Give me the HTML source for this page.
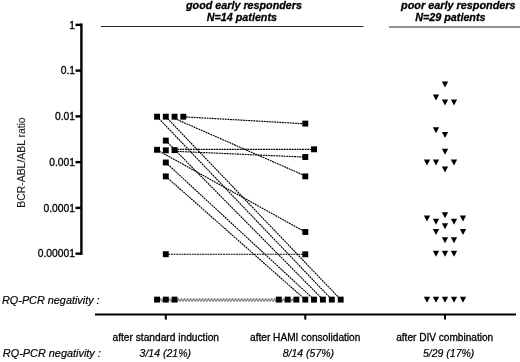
<!DOCTYPE html>
<html><head><meta charset="utf-8"><title>chart</title>
<style>html,body{margin:0;padding:0;background:#fff;}body{width:520px;height:362px;position:relative;overflow:hidden;font-family:"Liberation Sans",sans-serif;}</style>
</head><body>
<svg width="520" height="362" viewBox="0 0 520 362" style="position:absolute;left:0;top:0;will-change:transform;transform:translateZ(0)">
<g stroke="#2a2a2a" stroke-width="1" fill="none">
<path d="M101 26.5H363.5"/><path d="M389 27H520" stroke-width="1.2"/>
</g>
<g stroke="#000" stroke-width="2.4" fill="none">
<path d="M81.4 23.45V254.85"/>
<path d="M75.5 24.85H81.4"/>
<path d="M75.5 70.61H81.4"/>
<path d="M75.5 116.37H81.4"/>
<path d="M75.5 162.13H81.4"/>
<path d="M75.5 207.89H81.4"/>
<path d="M75.5 253.65H81.4"/>
</g>
<g stroke="#000" stroke-width="2" fill="none">
<path d="M95 314.5H516"/>
<path d="M165.8 314.5V319.6"/>
<path d="M305.3 314.5V319.6"/>
<path d="M445 314.5V319.6"/>
</g>
<g stroke="#000" stroke-width="1.15" fill="none" stroke-dasharray="1.9 0.7">
<path d="M183.3 116.8L305.3 123.8"/>
<path d="M174.6 118.5L305.3 175.9"/>
<path d="M174.6 149.4L314.1 149.4"/>
<path d="M174.6 151.3L305.3 157.1"/>
<path d="M157.1 150.0L305.3 232.0"/>
<path d="M165.8 254.2L305.3 254.3"/>
<path d="M157.1 116.7L331.8 299.6"/>
<path d="M165.8 116.7L340.7 299.6"/>
<path d="M165.8 140.6L322.9 299.6"/>
<path d="M165.8 162.5L314.0 299.6"/>
<path d="M165.8 176.4L305.3 299.6"/>
</g>
<g stroke="#2a2a2a" stroke-width="1.05" fill="none" stroke-dasharray="1.5 1.5">
<path d="M157.1 299.0H296.4" stroke-dashoffset="0"/>
<path d="M157.1 300.0H296.4" stroke-dashoffset="1"/>
<path d="M157.1 301.0H296.4" stroke-dashoffset="2"/>
</g>
<g fill="#000">
<rect x="154.10" y="113.75" width="5.9" height="5.9"/>
<rect x="162.85" y="113.75" width="5.9" height="5.9"/>
<rect x="171.60" y="113.75" width="5.9" height="5.9"/>
<rect x="180.35" y="113.75" width="5.9" height="5.9"/>
<rect x="162.85" y="137.65" width="5.9" height="5.9"/>
<rect x="154.10" y="146.85" width="5.9" height="5.9"/>
<rect x="162.85" y="147.35" width="5.9" height="5.9"/>
<rect x="171.60" y="147.15" width="5.9" height="5.9"/>
<rect x="162.85" y="159.55" width="5.9" height="5.9"/>
<rect x="162.85" y="173.45" width="5.9" height="5.9"/>
<rect x="162.85" y="251.25" width="5.9" height="5.9"/>
<rect x="154.10" y="296.65" width="5.9" height="5.9"/>
<rect x="162.85" y="296.65" width="5.9" height="5.9"/>
<rect x="171.60" y="296.65" width="5.9" height="5.9"/>
<rect x="302.35" y="120.65" width="5.9" height="5.9"/>
<rect x="311.10" y="146.35" width="5.9" height="5.9"/>
<rect x="302.35" y="154.05" width="5.9" height="5.9"/>
<rect x="302.35" y="173.45" width="5.9" height="5.9"/>
<rect x="302.35" y="229.05" width="5.9" height="5.9"/>
<rect x="302.35" y="251.35" width="5.9" height="5.9"/>
<rect x="275.85" y="296.65" width="5.9" height="5.9"/>
<rect x="284.75" y="296.65" width="5.9" height="5.9"/>
<rect x="293.45" y="296.65" width="5.9" height="5.9"/>
<rect x="302.35" y="296.65" width="5.9" height="5.9"/>
<rect x="311.05" y="296.65" width="5.9" height="5.9"/>
<rect x="319.95" y="296.65" width="5.9" height="5.9"/>
<rect x="328.85" y="296.65" width="5.9" height="5.9"/>
<rect x="337.75" y="296.65" width="5.9" height="5.9"/>
<path d="M441.85 81.40H448.15L445.00 87.40Z"/>
<path d="M432.85 94.60H439.15L436.00 100.60Z"/>
<path d="M441.85 99.60H448.15L445.00 105.60Z"/>
<path d="M450.85 99.60H457.15L454.00 105.60Z"/>
<path d="M432.85 127.20H439.15L436.00 133.20Z"/>
<path d="M441.85 132.00H448.15L445.00 138.00Z"/>
<path d="M441.85 148.80H448.15L445.00 154.80Z"/>
<path d="M423.85 159.40H430.15L427.00 165.40Z"/>
<path d="M432.85 159.40H439.15L436.00 165.40Z"/>
<path d="M450.85 159.40H457.15L454.00 165.40Z"/>
<path d="M441.85 166.60H448.15L445.00 172.60Z"/>
<path d="M423.85 215.60H430.15L427.00 221.60Z"/>
<path d="M432.85 218.80H439.15L436.00 224.80Z"/>
<path d="M441.85 212.20H448.15L445.00 218.20Z"/>
<path d="M441.85 223.20H448.15L445.00 229.20Z"/>
<path d="M450.85 218.80H457.15L454.00 224.80Z"/>
<path d="M459.85 215.60H466.15L463.00 221.60Z"/>
<path d="M432.85 229.10H439.15L436.00 235.10Z"/>
<path d="M459.85 229.10H466.15L463.00 235.10Z"/>
<path d="M441.85 237.30H448.15L445.00 243.30Z"/>
<path d="M450.85 237.30H457.15L454.00 243.30Z"/>
<path d="M432.85 250.80H439.15L436.00 256.80Z"/>
<path d="M441.85 250.80H448.15L445.00 256.80Z"/>
<path d="M450.85 250.80H457.15L454.00 256.80Z"/>
<path d="M423.85 296.70H430.15L427.00 302.70Z"/>
<path d="M432.85 296.70H439.15L436.00 302.70Z"/>
<path d="M441.85 296.70H448.15L445.00 302.70Z"/>
<path d="M450.85 296.70H457.15L454.00 302.70Z"/>
<path d="M459.85 296.70H466.15L463.00 302.70Z"/>
</g>
<g font-family="Liberation Sans, sans-serif" fill="#000" stroke="#000" stroke-width="0.3" stroke-linejoin="round">
<text x="244" y="9.3" font-size="10.75" text-anchor="middle" font-weight="bold" font-style="italic" >good early responders</text>
<text x="241.9" y="21.3" font-size="10.75" text-anchor="middle" font-weight="bold" font-style="italic" >N=14 patients</text>
<text x="458.3" y="9.3" font-size="10.85" text-anchor="middle" font-weight="bold" font-style="italic" >poor early responders</text>
<text x="450.4" y="21.3" font-size="10.75" text-anchor="middle" font-weight="bold" font-style="italic" >N=29 patients</text>
<text x="75.0" y="28.6" font-size="10.3" text-anchor="end"  >1</text>
<text x="75.0" y="74.36" font-size="10.3" text-anchor="end"  >0.1</text>
<text x="75.0" y="120.12" font-size="10.3" text-anchor="end"  >0.01</text>
<text x="75.0" y="165.88" font-size="10.3" text-anchor="end"  >0.001</text>
<text x="75.0" y="211.64" font-size="10.3" text-anchor="end"  >0.0001</text>
<text x="75.0" y="257.4" font-size="10.3" text-anchor="end"  >0.00001</text>
<text x="0" y="0" font-size="10.4" text-anchor="middle"  transform="translate(24.6 162.5) rotate(-90)" stroke-width="0.1" fill="#1a1a1a" stroke="#1a1a1a">BCR-ABL/ABL ratio</text>
<text x="2.0" y="304.0" font-size="10.85" text-anchor="start" font-style="italic" stroke-width="0.2" >RQ-PCR negativity :</text>
<text x="2.8" y="357.2" font-size="10.9" text-anchor="start" font-style="italic" stroke-width="0.2" >RQ-PCR negativity :</text>
<text x="165.8" y="340.6" font-size="10.2" text-anchor="middle"  >after standard induction</text>
<text x="305.2" y="340.6" font-size="10.15" text-anchor="middle"  >after HAMI consolidation</text>
<text x="444.7" y="340.6" font-size="10.1" text-anchor="middle"  >after DIV combination</text>
<text x="165.3" y="357.2" font-size="10.5" text-anchor="middle" font-style="italic" stroke-width="0.2" >3/14 (21%)</text>
<text x="308.4" y="357.2" font-size="10.5" text-anchor="middle" font-style="italic" stroke-width="0.2" >8/14 (57%)</text>
<text x="448.7" y="357.2" font-size="10.5" text-anchor="middle" font-style="italic" stroke-width="0.2" >5/29 (17%)</text>
</g>
</svg>
</body></html>
